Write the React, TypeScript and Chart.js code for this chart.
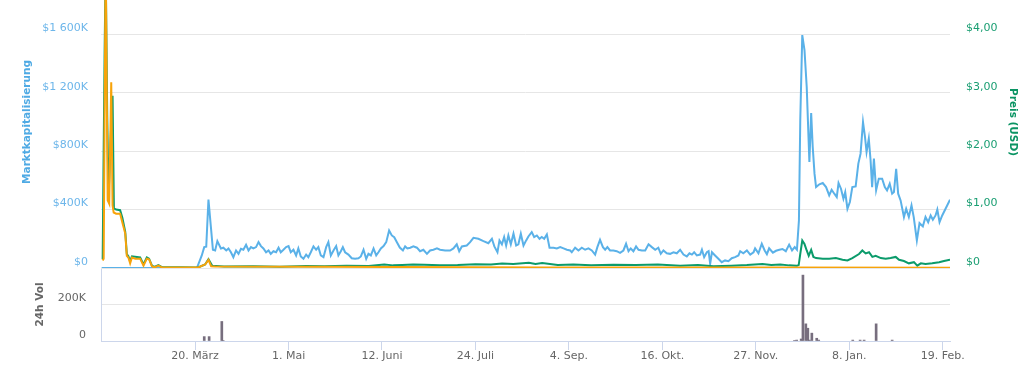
import React, { useEffect, useRef } from 'react';
import { Chart, registerables } from 'chart.js';

Chart.register(...registerables);

const FONT = 'DejaVu Sans';
const BLUE = '#5ab1e8';
const GREEN = '#0b9b6b';
const ORANGE = '#f7a30a';
const VOL = '#776e7e';

// x axis: days since 6 Feb
const X_MIN = -0.3;
const X_MAX = 381.3;
const xTickDays = [42, 84, 126, 168, 210, 252, 294, 336, 378];
const xTickLabels = ['20. März', '1. Mai', '12. Juni', '24. Juli', '4. Sep.', '16. Okt.', '27. Nov.', '8. Jan.', '19. Feb.'];

// market cap, thousand USD [day, value]
const marketCapK: [number, number][] = [
  [0, 0], [42.8, 0], [45.0, 86], [46.1, 143], [47.0, 146], [48.0, 468], [49.1, 280], [50.0, 125], [51.0, 120],
  [52.0, 184], [53.6, 134], [54.7, 139], [56.0, 120], [57.0, 134], [58.1, 108], [59.2, 74], [60.4, 120],
  [61.5, 97], [62.6, 132], [63.7, 125], [64.9, 159], [66.0, 120], [67.1, 143], [68.2, 134], [69.4, 143],
  [70.5, 177], [71.6, 150], [72.7, 134], [73.9, 108], [75.0, 120], [76.0, 97], [77.2, 115], [78.4, 108],
  [79.5, 139], [80.5, 108], [81.7, 125], [82.9, 143], [84.0, 150], [85.0, 108], [86.2, 125], [87.4, 86],
  [88.4, 134], [89.5, 79], [90.7, 63], [91.9, 92], [92.9, 74], [94.0, 108], [95.2, 148], [96.4, 125],
  [97.4, 143], [98.5, 86], [99.7, 74], [100.9, 143], [101.9, 177], [103.0, 86], [104.2, 120], [105.4, 150],
  [106.4, 86], [107.5, 115], [108.4, 143], [109.4, 108], [110.9, 92], [112.4, 67], [113.9, 63], [115.4, 67],
  [116.5, 79], [117.7, 125], [118.9, 63], [119.9, 97], [121.0, 86], [122.2, 134], [123.4, 86], [124.4, 108],
  [125.5, 134], [126.7, 150], [127.9, 177], [129.2, 257], [130.4, 223], [131.5, 211], [132.7, 177], [134.0, 140],
  [135.4, 120], [136.4, 148], [137.4, 134], [138.7, 139], [140.1, 148], [141.7, 139], [143.1, 115], [144.6, 125],
  [146.2, 97], [147.6, 120], [149.1, 125], [150.7, 134], [152.1, 125], [154.4, 120], [156.6, 120], [158.1, 134],
  [159.6, 162], [160.7, 115], [161.9, 148], [164.1, 154], [165.6, 177], [167.1, 207], [169.3, 200], [171.6, 184],
  [173.8, 170], [175.4, 200], [176.5, 148], [177.9, 108], [178.8, 189], [179.9, 162], [180.9, 212], [181.8, 154],
  [182.8, 223], [183.9, 162], [185.1, 235], [186.3, 154], [187.3, 162], [188.4, 235], [189.6, 154], [190.8, 189],
  [191.8, 216], [193.3, 246], [194.4, 212], [195.6, 223], [196.8, 200], [197.8, 212], [198.9, 200], [200.1, 230],
  [201.3, 139], [203.1, 139], [204.6, 134], [206.1, 143], [207.6, 134], [209.1, 125], [210.6, 120], [211.3, 108],
  [212.8, 139], [214.3, 120], [215.8, 139], [217.3, 125], [218.8, 134], [220.3, 120], [221.8, 92], [222.8, 143],
  [224.0, 193], [225.3, 143], [226.3, 125], [227.3, 143], [228.5, 120], [230.0, 120], [231.5, 115], [233.0, 104],
  [234.5, 120], [235.7, 166], [236.8, 115], [237.8, 134], [239.0, 115], [240.2, 148], [241.3, 125], [242.8, 120],
  [244.3, 120], [245.8, 162], [247.3, 143], [248.8, 125], [250.2, 139], [251.3, 97], [252.5, 120], [254.0, 101],
  [255.5, 97], [257.0, 108], [258.5, 101], [260.0, 125], [261.5, 92], [263.0, 79], [264.2, 101], [265.3, 92],
  [266.3, 108], [267.5, 86], [269.0, 92], [269.8, 125], [270.8, 74], [272.0, 108], [272.8, 115], [273.5, 29],
  [274.3, 108], [275.7, 86], [277.2, 63], [278.7, 40], [280.2, 52], [281.7, 47], [283.2, 67], [284.7, 74],
  [286.2, 86], [287.0, 115], [288.4, 101], [290.0, 120], [291.5, 92], [293.0, 108], [293.7, 134], [295.2, 101],
  [296.7, 166], [298.0, 120], [299.0, 95], [300.0, 135], [301.7, 105], [303.1, 118], [304.6, 125], [306.0, 130],
  [307.5, 115], [309.0, 160], [310.3, 120], [311.5, 143], [312.5, 125], [313.4, 326], [314.0, 1012], [314.9, 1595],
  [315.9, 1492], [316.9, 1240], [318.1, 726], [318.9, 1062], [319.6, 829], [320.4, 646], [321.1, 554], [322.6, 573],
  [324.1, 582], [325.6, 554], [327.0, 497], [328.1, 536], [329.3, 509], [330.4, 486], [331.2, 582], [332.3, 543],
  [333.4, 475], [334.2, 520], [335.2, 406], [336.3, 452], [337.4, 554], [338.9, 559], [340.1, 715], [341.1, 783],
  [342.2, 1000], [343.1, 897], [343.8, 794], [344.8, 886], [345.6, 738], [346.3, 554], [347.1, 749], [348.1, 532],
  [349.3, 612], [350.8, 612], [352.0, 554], [353.0, 532], [354.2, 577], [355.3, 509], [356.1, 520], [357.1, 680],
  [358.0, 509], [359.1, 463], [360.6, 349], [361.6, 406], [362.8, 349], [364.0, 429], [365.0, 349], [366.4, 189],
  [367.6, 307], [369.1, 285], [370.3, 349], [371.5, 314], [372.6, 360], [373.6, 330], [374.8, 360], [375.6, 400],
  [376.6, 314], [377.8, 360], [379.3, 406], [381.3, 468],
];

// price in USD [day, value]
const priceUsd: [number, number][] = [
  [0.45, 0.15], [0.8, 1.62], [1.3, 3.6], [1.8, 5.2], [2.5, 2.6], [3.1, 1.2], [4.0, 2.2], [4.9, 2.95], [5.5, 1.02],
  [6.5, 1.0], [8.3, 0.99], [9.3, 0.86], [10.6, 0.62], [11.3, 0.24], [12.0, 0.2], [12.8, 0.12], [13.6, 0.2],
  [17.3, 0.18], [18.8, 0.06], [20.3, 0.18], [21.3, 0.16], [22.6, 0.04], [23.7, 0.02], [25.5, 0.05], [27.1, 0.015],
  [43.4, 0.01], [46.5, 0.06], [48.0, 0.15], [49.7, 0.04], [55, 0.025], [68, 0.03], [80, 0.02], [92, 0.035],
  [100, 0.03], [110, 0.04], [120, 0.035], [127, 0.06], [131, 0.045], [135, 0.05], [140, 0.06], [145, 0.055],
  [152, 0.045], [160, 0.05], [168, 0.065], [175, 0.06], [180, 0.075], [185, 0.07], [192, 0.09], [195, 0.07],
  [198, 0.085], [205, 0.05], [212, 0.06], [220, 0.045], [230, 0.055], [240, 0.05], [250, 0.06], [260, 0.04],
  [268, 0.05], [275, 0.03], [283, 0.04], [290, 0.05], [297, 0.07], [301, 0.05], [305, 0.06], [309, 0.045],
  [312.5, 0.04], [313.3, 0.05], [314.0, 0.24], [314.9, 0.47], [315.9, 0.41], [316.9, 0.30], [317.8, 0.21],
  [318.9, 0.31], [319.9, 0.19], [321.1, 0.17], [324.1, 0.16], [327.0, 0.16], [330.0, 0.17], [333.0, 0.14],
  [335.2, 0.13], [337.4, 0.17], [340.4, 0.24], [341.9, 0.30], [343.4, 0.25], [344.9, 0.27], [346.4, 0.19],
  [347.9, 0.21], [350.2, 0.17], [352.4, 0.16], [354.6, 0.17], [356.9, 0.19], [358.4, 0.14], [360.6, 0.12],
  [362.8, 0.08], [365.1, 0.10], [366.6, 0.04], [368.2, 0.08], [370.3, 0.07], [373.3, 0.08], [376.4, 0.10],
  [378.6, 0.12], [381.3, 0.14],
];

// price in BTC [day, value]
const priceBtc: [number, number][] = [
  [0.45, 0.00013], [0.9, 0.00016], [1.8, 0.0053], [2.7, 0.00116], [3.4, 0.0011], [4.3, 0.00318], [4.9, 0.00107],
  [5.4, 0.00095], [6.5, 0.00093], [8.3, 0.00093], [9.3, 0.00078], [10.6, 0.00059], [11.3, 0.00021], [12.0, 0.00018],
  [12.8, 0.00008], [13.6, 0.00018], [15.1, 0.00016], [17.3, 0.00016], [18.8, 0.00004], [20.3, 0.00016],
  [21.3, 0.00015], [22.6, 0.00003], [23.7, 0.00001], [25.5, 0.00004], [27.1, 0.00001], [43.4, 0.00001],
  [46.5, 0.00006], [48.0, 0.00014], [49.2, 0.00003], [51, 0.000025], [100, 0.00002], [200, 0.00001],
  [300, 0.000008], [381.3, 0.000006],
];

// 24h volume, thousand USD [day, value]
const volumeK: [number, number][] = [
  [46.1, 24], [48.3, 24], [54.0, 107], [54.6, 3], [311.4, 3], [312.4, 5], [314.4, 11], [315.2, 361], [316.5, 94],
  [317.4, 70], [318.1, 5], [319.2, 43], [321.4, 15], [322.3, 5], [337.6, 5], [340.9, 5], [342.7, 5], [348.1, 94],
  [355.3, 5],
];

const pts = (arr: [number, number][]) => arr.map(([x, y]) => ({ x, y }));
const spaced = (v: number) => String(v).replace(/\B(?=(\d{3})+(?!\d))/g, ' ');

const fitY = (w: number) => (s: any) => { s.width = w; s.paddingTop = 0; s.paddingBottom = 0; };

export default function App() {
  const topRef = useRef<HTMLCanvasElement>(null);
  const botRef = useRef<HTMLCanvasElement>(null);

  useEffect(() => {
    const tickFont = { family: FONT, size: 11 };
    const titleFont = { family: FONT, size: 10.5, weight: 'bold' as const };

    const top = new Chart(topRef.current!, {
      type: 'line',
      data: {
        datasets: [
          { label: 'Preis (BTC)', data: pts(priceBtc), yAxisID: 'yBtc', borderColor: ORANGE, borderWidth: 2, pointRadius: 0, order: 0 },
          { label: 'Preis (USD)', data: pts(priceUsd), yAxisID: 'yUsd', borderColor: GREEN, borderWidth: 2, pointRadius: 0, order: 1 },
          { label: 'Marktkapitalisierung', data: pts(marketCapK), yAxisID: 'yCap', borderColor: BLUE, borderWidth: 2, pointRadius: 0, order: 2 },
        ],
      },
      options: {
        responsive: false,
        animation: false,
        layout: { autoPadding: false, padding: { left: 0, right: 0, top: 0, bottom: 4 } },
        plugins: { legend: { display: false }, tooltip: { enabled: false } },
        scales: {
          x: { type: 'linear', display: false, min: X_MIN, max: X_MAX },
          yCap: {
            position: 'left', min: 0, max: 2000,
            afterFit: fitY(101),
            ticks: { stepSize: 400, padding: 13, labelOffset: -6, color: '#6db6ea', font: tickFont,
              callback: (v: any) => (v === 0 ? '$0' : '$' + spaced(v) + 'K') },
            grid: { color: '#e6e6e6', drawTicks: false },
            border: { display: false },
            title: { display: true, text: 'Marktkapitalisierung', color: '#4faae4', font: titleFont, padding: { top: 20.5, bottom: 0 } },
          },
          yUsd: {
            position: 'right', min: 0, max: 5,
            afterFit: fitY(77),
            ticks: { stepSize: 1, padding: 16, labelOffset: -6, color: '#1a9e72', font: tickFont,
              callback: (v: any) => (v === 0 ? '$0' : '$' + Number(v).toFixed(2).replace('.', ',')) },
            grid: { drawOnChartArea: false, drawTicks: false },
            border: { display: false },
            title: { display: true, text: 'Preis (USD)', color: '#0a9463', font: titleFont, padding: { top: 7.5, bottom: 0 } },
          },
          yBtc: { display: false, min: 0, max: 0.005 },
        },
      } as any,
    });

    const bot = new Chart(botRef.current!, {
      type: 'bar',
      data: {
        datasets: [
          { label: '24h Vol', data: pts(volumeK), yAxisID: 'yVol', backgroundColor: VOL, barThickness: 2 },
        ],
      },
      options: {
        responsive: false,
        animation: false,
        layout: { autoPadding: false, padding: { left: 0, right: 77, top: 0, bottom: 0 } },
        plugins: { legend: { display: false }, tooltip: { enabled: false } },
        scales: {
          x: {
            type: 'linear', min: X_MIN, max: X_MAX, offset: false,
            afterFit: (s: any) => { s.height = 40; s.paddingLeft = 0; s.paddingRight = 0; },
            afterBuildTicks: (s: any) => { s.ticks = xTickDays.map((v) => ({ value: v })); },
            ticks: { autoSkip: false, maxRotation: 0, padding: 0, color: '#666666', font: tickFont,
              callback: (_v: any, i: number) => xTickLabels[i] },
            grid: { offset: false, drawOnChartArea: false, tickLength: 9, color: '#ccd6eb' },
            border: { color: '#ccd6eb' },
          },
          yVol: {
            position: 'left', min: 0, max: 400,
            afterFit: fitY(101),
            ticks: { stepSize: 200, padding: 15, labelOffset: -6, color: '#666666', font: tickFont,
              callback: (v: any) => (v === 0 ? '0' : v === 400 ? '' : spaced(v) + 'K') },
            grid: { color: '#e6e6e6', drawTicks: false },
            border: { color: '#ccd6eb' },
            title: { display: true, text: '24h Vol', color: '#666666', font: titleFont, padding: { top: 34, bottom: 0 } },
          },
        },
      } as any,
    });

    return () => { top.destroy(); bot.destroy(); };
  }, []);

  return (
    <div style={{ position: 'fixed', left: 0, top: 0, width: 1027, height: 381, overflow: 'hidden', background: '#ffffff' }}>
      <canvas ref={botRef} width={1027} height={113} style={{ position: 'absolute', left: 0, top: 268, width: 1027, height: 113 }} />
      <canvas ref={topRef} width={1027} height={296} style={{ position: 'absolute', left: 0, top: -24, width: 1027, height: 296 }} />
    </div>
  );
}
